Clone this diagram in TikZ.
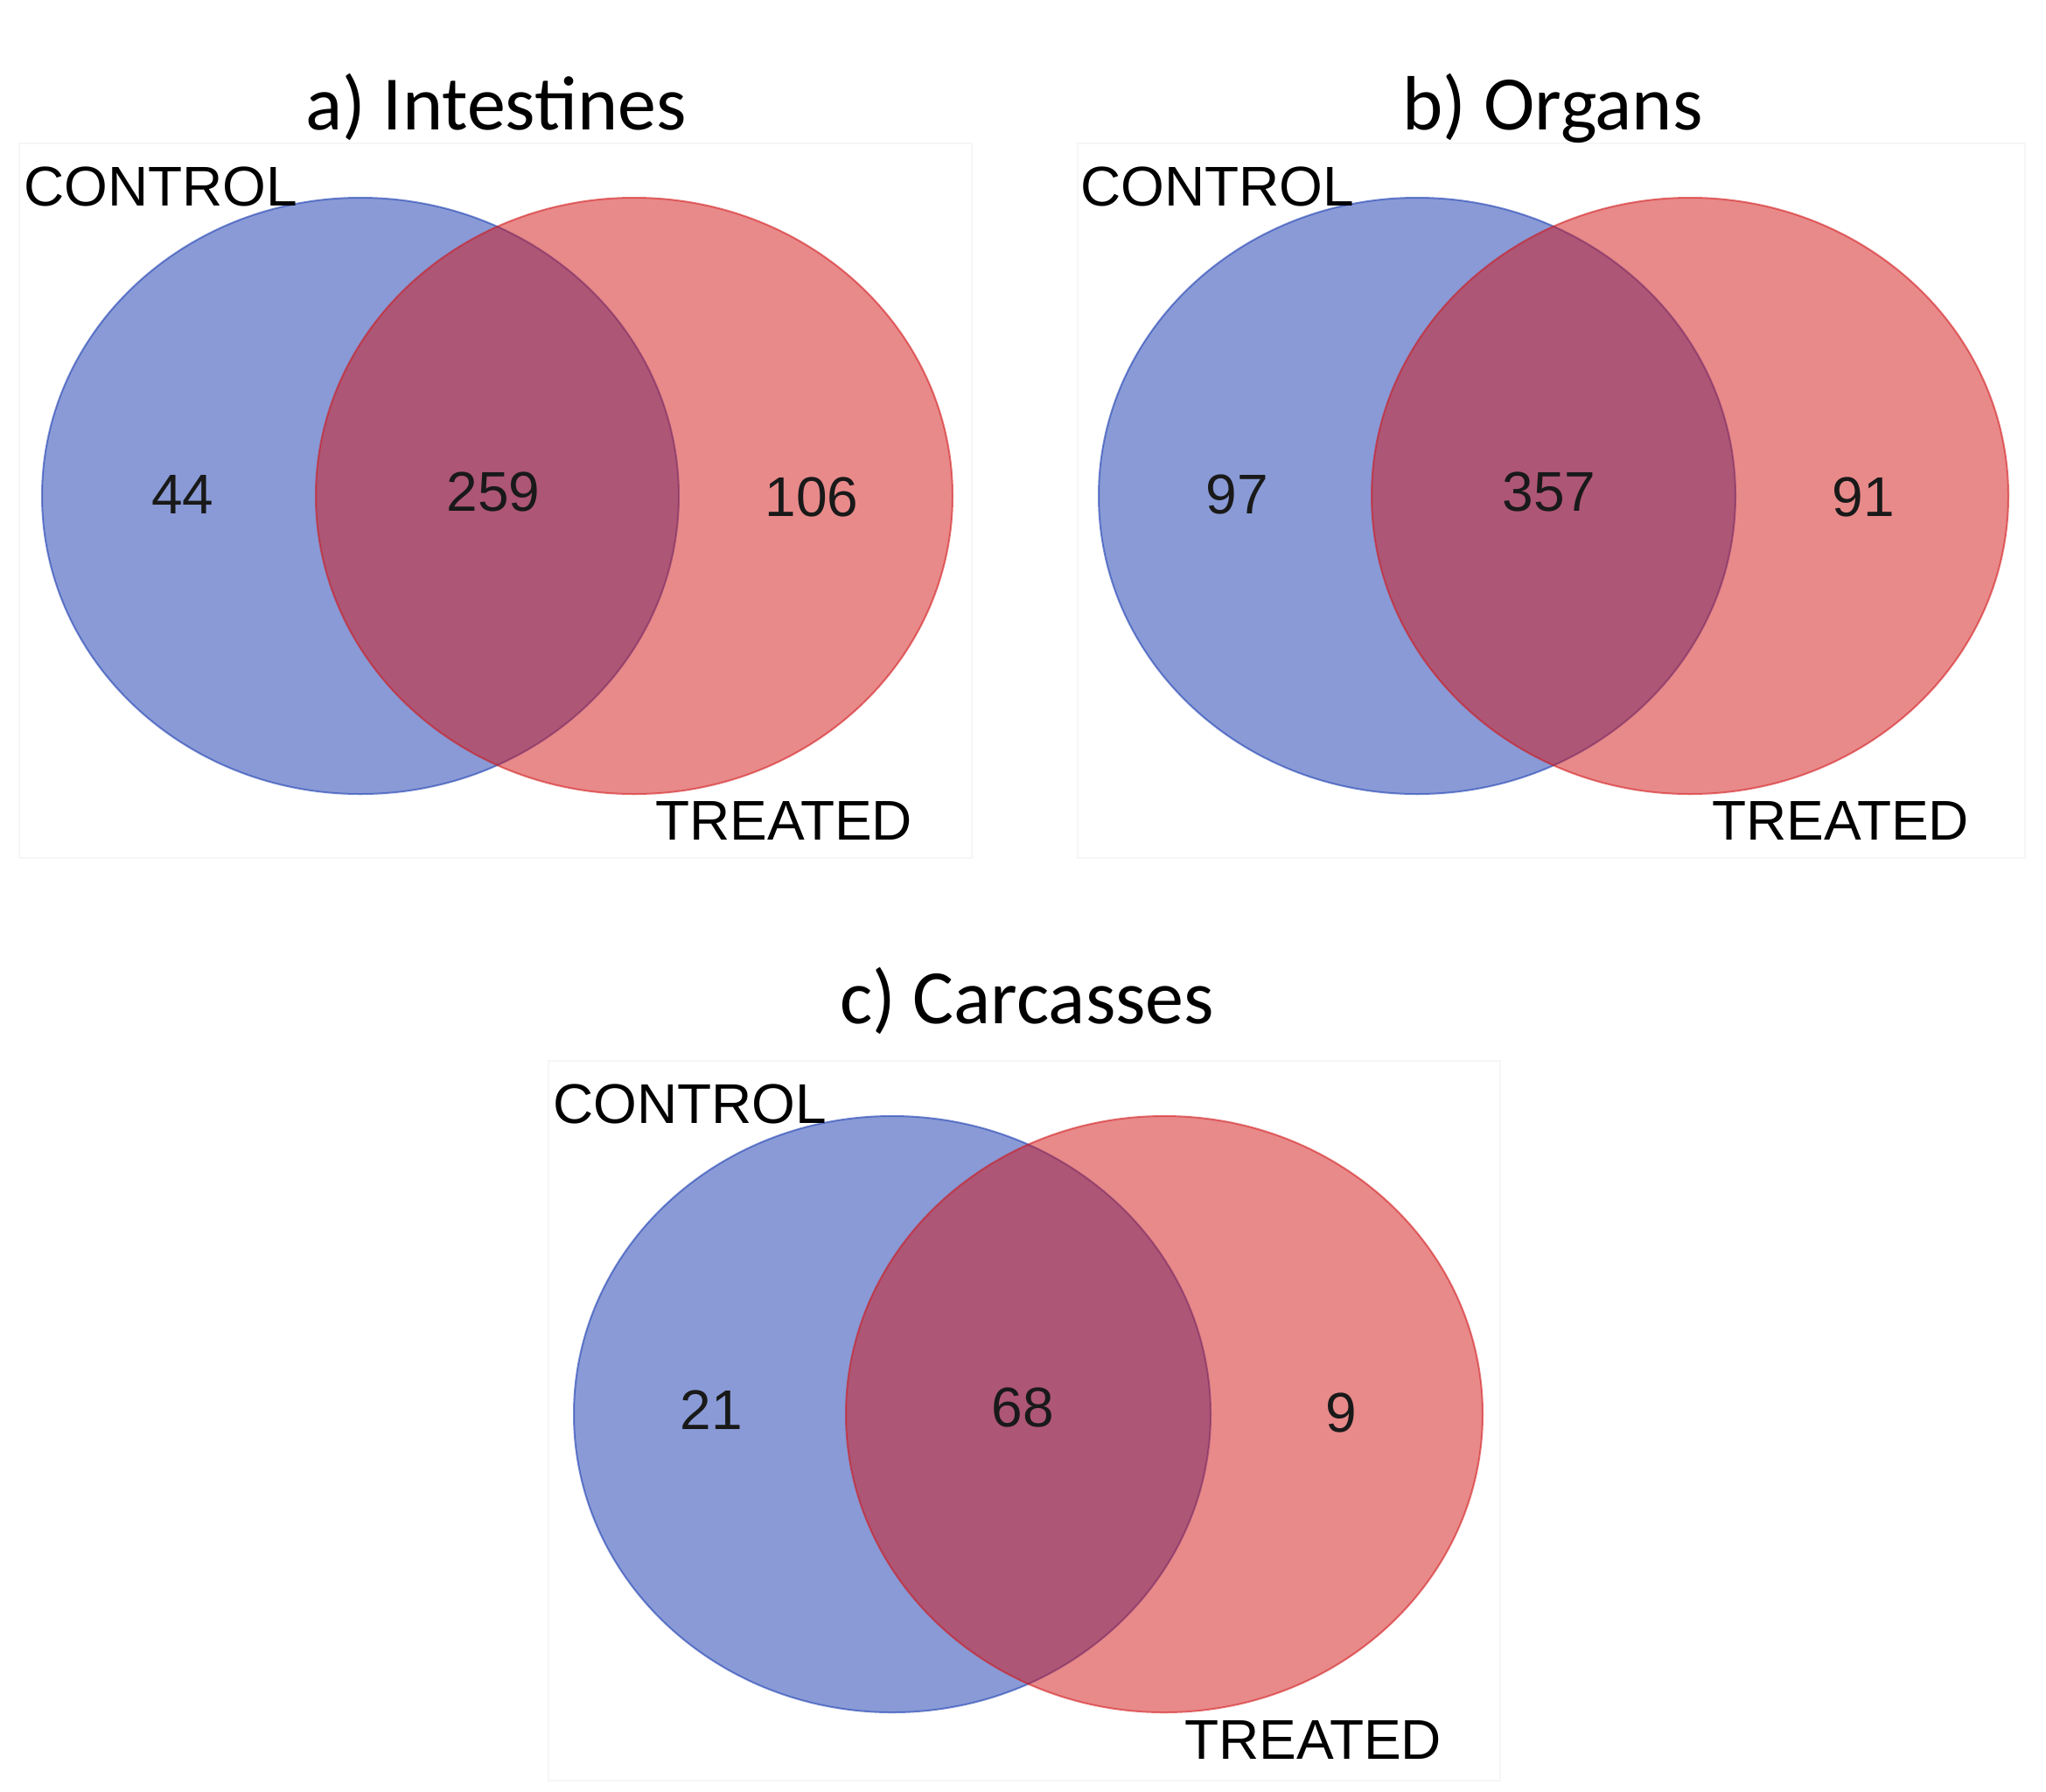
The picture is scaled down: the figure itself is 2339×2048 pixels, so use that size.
\documentclass[tikz,border=0pt]{standalone}
\usepackage{fontspec}
\setmainfont{Liberation Sans}
\newfontfamily\titlefont{Carlito}
\usetikzlibrary{shapes.geometric}
\definecolor{vblue}{RGB}{20,55,175}
\definecolor{vred}{RGB}{210,20,22}
\definecolor{panelline}{RGB}{246,246,246}
\tikzset{
  ctl/.style={ellipse, inner sep=0pt, minimum width=728pt, minimum height=682pt,
    fill=vblue, fill opacity=0.5, draw=vblue, draw opacity=0.55, line width=2pt},
  trt/.style={ellipse, inner sep=0pt, minimum width=728pt, minimum height=682pt,
    fill=vred, fill opacity=0.5, draw=vred, draw opacity=0.55, line width=2pt},
  ttl/.style={font=\titlefont\fontsize{88}{100}\selectfont, anchor=base, inner sep=0pt},
  lbl/.style={font=\fontsize{64}{76}\selectfont, anchor=base west, inner sep=0pt},
  num/.style={font=\fontsize{64}{76}\selectfont, anchor=base, inner sep=0pt, text=black!90},
  panel/.style={draw=panelline, line width=1.2pt}
}
\begin{document}
\begin{tikzpicture}[x=1pt,y=-1pt]
\useasboundingbox (0,0) rectangle (2339,2048);
\fill[white] (0,0) rectangle (2339,2048);
% faint panel frames
\draw[panel] (22,164) rectangle (1111,981);
\draw[panel] (1232,164) rectangle (2315,981);
\draw[panel] (627,1213) rectangle (1715,2036);

% ---- a) Intestines
\node[ttl] (ta) at (567,148) {a) Intestines};
\node[ctl] (ca) at (412,567) {};
\node[trt] (ra) at (725,567) {};
\node[lbl] (lca) at (27,235) {CONTROL};
\node[lbl] (lta) at (749,960) {TREATED};
\node[num] (na1) at (209,587) {44};
\node[num] (na2) at (564,584) {259};
\node[num] (na3) at (928,590) {106};

% ---- b) Organs
\node[ttl] (tb) at (1775,148) {b) Organs};
\node[ctl] (cb) at (1620,567) {};
\node[trt] (rb) at (1932,567) {};
\node[lbl] (lcb) at (1235,235) {CONTROL};
\node[lbl] (ltb) at (1957,960) {TREATED};
\node[num] (nb1) at (1414,587) {97};
\node[num] (nb2) at (1771,584) {357};
\node[num] (nb3) at (2130,590) {91};

% ---- c) Carcasses
\node[ttl] (tc) at (1174,1170) {c) Carcasses};
\node[ctl] (cc) at (1020,1617) {};
\node[trt] (rc) at (1331,1617) {};
\node[lbl] (lcc) at (632,1284) {CONTROL};
\node[lbl] (ltc) at (1354,2011) {TREATED};
\node[num] (nc1) at (813,1634) {21};
\node[num] (nc2) at (1169,1631) {68};
\node[num] (nc3) at (1533,1637) {9};
\end{tikzpicture}
\end{document}
